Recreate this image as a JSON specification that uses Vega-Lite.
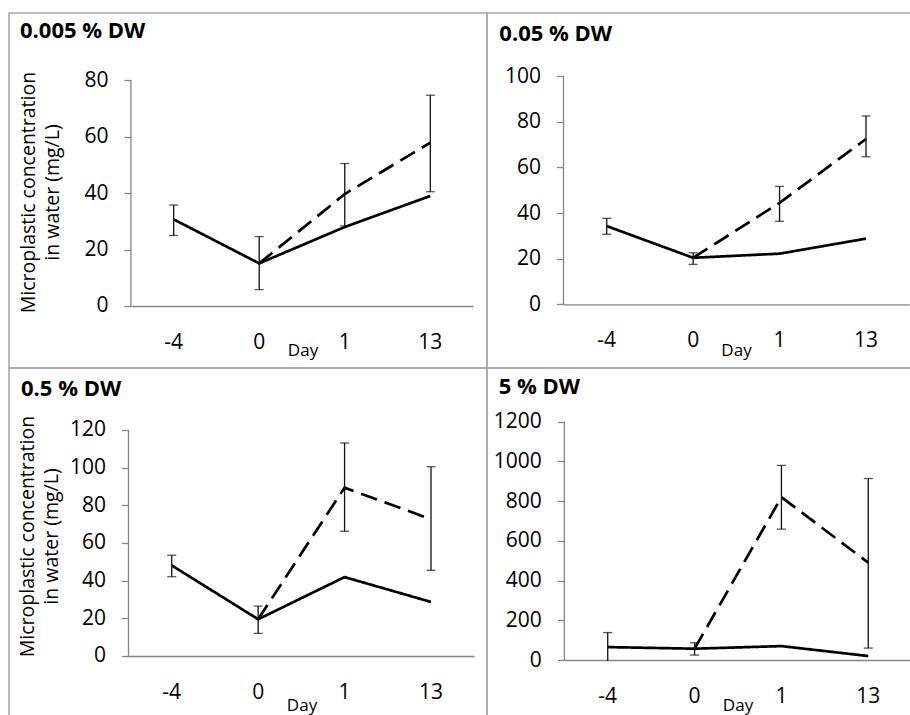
{
  "$schema": "https://vega.github.io/schema/vega-lite/v6.json",
  "padding": {"left": 8, "top": 12, "right": 0, "bottom": 0},
  "background": "white",
  "datasets": {
    "lines": [
      {"panel": "A", "day": "-4", "series": "solid", "value": 30.7},
      {"panel": "A", "day": "0", "series": "solid", "value": 15.1},
      {"panel": "A", "day": "1", "series": "solid", "value": 28.0},
      {"panel": "A", "day": "13", "series": "solid", "value": 39.0},
      {"panel": "A", "day": "0", "series": "dashed", "value": 15.1},
      {"panel": "A", "day": "1", "series": "dashed", "value": 39.7},
      {"panel": "A", "day": "13", "series": "dashed", "value": 57.9},
      {"panel": "B", "day": "-4", "series": "solid", "value": 34.3},
      {"panel": "B", "day": "0", "series": "solid", "value": 20.4},
      {"panel": "B", "day": "1", "series": "solid", "value": 22.2},
      {"panel": "B", "day": "13", "series": "solid", "value": 28.8},
      {"panel": "B", "day": "0", "series": "dashed", "value": 20.4},
      {"panel": "B", "day": "1", "series": "dashed", "value": 44.5},
      {"panel": "B", "day": "13", "series": "dashed", "value": 72.5},
      {"panel": "C", "day": "-4", "series": "solid", "value": 48.1},
      {"panel": "C", "day": "0", "series": "solid", "value": 19.5},
      {"panel": "C", "day": "1", "series": "solid", "value": 41.9},
      {"panel": "C", "day": "13", "series": "solid", "value": 28.7},
      {"panel": "C", "day": "0", "series": "dashed", "value": 19.5},
      {"panel": "C", "day": "1", "series": "dashed", "value": 89.4},
      {"panel": "C", "day": "13", "series": "dashed", "value": 72.6},
      {"panel": "D", "day": "-4", "series": "solid", "value": 65},
      {"panel": "D", "day": "0", "series": "solid", "value": 57},
      {"panel": "D", "day": "1", "series": "solid", "value": 70},
      {"panel": "D", "day": "13", "series": "solid", "value": 20},
      {"panel": "D", "day": "0", "series": "dashed", "value": 57},
      {"panel": "D", "day": "1", "series": "dashed", "value": 820},
      {"panel": "D", "day": "13", "series": "dashed", "value": 490}
    ],
    "errors": [
      {"panel": "A", "day": "-4", "lo": 25.0, "hi": 35.8},
      {"panel": "A", "day": "0", "lo": 5.8, "hi": 24.6},
      {"panel": "A", "day": "1", "lo": 28.4, "hi": 50.5},
      {"panel": "A", "day": "13", "lo": 40.5, "hi": 74.7},
      {"panel": "B", "day": "-4", "lo": 30.7, "hi": 37.7},
      {"panel": "B", "day": "0", "lo": 17.5, "hi": 22.6},
      {"panel": "B", "day": "1", "lo": 36.4, "hi": 51.7},
      {"panel": "B", "day": "13", "lo": 64.7, "hi": 82.6},
      {"panel": "C", "day": "-4", "lo": 42.1, "hi": 53.5},
      {"panel": "C", "day": "0", "lo": 12.0, "hi": 26.5},
      {"panel": "C", "day": "1", "lo": 66.2, "hi": 113.1},
      {"panel": "C", "day": "13", "lo": 45.5, "hi": 100.5},
      {"panel": "D", "day": "-4", "lo": -5, "hi": 138},
      {"panel": "D", "day": "0", "lo": 25, "hi": 87},
      {"panel": "D", "day": "1", "lo": 659, "hi": 980},
      {"panel": "D", "day": "13", "lo": 60, "hi": 914}
    ]
  },
  "columns": 2,
  "spacing": 0,
  "bounds": "flush",
  "concat": [
    {
      "width": 478, "height": 355,
      "title": {"text": "0.005 % DW", "anchor": "start", "frame": "group", "orient": "top", "offset": -47, "baseline": "alphabetic", "dx": 11},
      "layer": [
        {
          "data": {"name": "lines"},
          "transform": [{"filter": "datum.panel === 'A'"}],
          "mark": {"type": "line", "color": "#000000", "strokeWidth": 2.7},
          "encoding": {
            "x": {"field": "day", "type": "ordinal", "bandPosition": 0.5,
              "scale": {"type": "band", "domain": ["-4", "0", "1", "13"], "range": [121.9, 464.1], "paddingInner": 0, "paddingOuter": 0},
              "axis": {"orient": "bottom", "offset": -62, "title": "Day", "titleX": 293.5, "titleY": 49}},
            "y": {"field": "value", "type": "quantitative",
              "scale": {"domain": [-21.98, 103.85], "nice": false, "zero": false},
              "axis": {"orient": "left", "offset": -121.9, "values": [0, 20, 40, 60, 80], "title": ["Microplastic concentration", "in water (mg/L)"], "titleX": -102, "titleY": 179}},
            "strokeDash": {"field": "series", "type": "nominal", "scale": {"domain": ["solid", "dashed"], "range": [[1, 0], [17, 8]]}, "legend": null}
          }
        },
        {
          "data": {"name": "errors"},
          "transform": [{"filter": "datum.panel === 'A'"}],
          "mark": {"type": "rule", "color": "#111111", "strokeWidth": 1.3},
          "encoding": {
            "x": {"field": "day", "type": "ordinal", "bandPosition": 0.5},
            "y": {"field": "lo", "type": "quantitative"},
            "y2": {"field": "hi"}
          }
        },
        {
          "data": {"name": "errors"},
          "transform": [{"filter": "datum.panel === 'A'"}],
          "mark": {"type": "tick", "color": "#111111", "thickness": 1.3, "size": 9, "orient": "horizontal"},
          "encoding": {
            "x": {"field": "day", "type": "ordinal", "bandPosition": 0.5},
            "y": {"field": "hi", "type": "quantitative"}
          }
        },
        {
          "data": {"name": "errors"},
          "transform": [{"filter": "datum.panel === 'A' && datum.lo >= 0"}],
          "mark": {"type": "tick", "color": "#111111", "thickness": 1.3, "size": 9, "orient": "horizontal"},
          "encoding": {
            "x": {"field": "day", "type": "ordinal", "bandPosition": 0.5},
            "y": {"field": "lo", "type": "quantitative"}
          }
        },
        {
          "data": {"values": [{}]},
          "mark": {"type": "rule", "color": "#868686", "strokeWidth": 1.3},
          "encoding": {
            "x": {"datum": "-4", "bandPosition": 0},
            "y": {"datum": 0},
            "y2": {"datum": 80}
          }
        }
      ]
    },
    {
      "width": 430, "height": 355,
      "title": {"text": "0.05 % DW", "anchor": "start", "frame": "group", "orient": "top", "offset": -50, "baseline": "alphabetic", "dx": 12.3},
      "layer": [
        {
          "data": {"name": "lines"},
          "transform": [{"filter": "datum.panel === 'B'"}],
          "mark": {"type": "line", "color": "#000000", "strokeWidth": 2.7},
          "encoding": {
            "x": {"field": "day", "type": "ordinal", "bandPosition": 0.5,
              "scale": {"type": "band", "domain": ["-4", "0", "1", "13"], "range": [76.5, 422.2], "paddingInner": 0, "paddingOuter": 0},
              "axis": {"orient": "bottom", "offset": -63.7, "title": "Day", "titleX": 249, "titleY": 51}},
            "y": {"field": "value", "type": "quantitative",
              "scale": {"domain": [-27.94, 127.76], "nice": false, "zero": false},
              "axis": {"orient": "left", "offset": -76.5, "values": [0, 20, 40, 60, 80, 100], "title": null}},
            "strokeDash": {"field": "series", "type": "nominal", "scale": {"domain": ["solid", "dashed"], "range": [[1, 0], [17, 8]]}, "legend": null}
          }
        },
        {
          "data": {"name": "errors"},
          "transform": [{"filter": "datum.panel === 'B'"}],
          "mark": {"type": "rule", "color": "#111111", "strokeWidth": 1.3},
          "encoding": {
            "x": {"field": "day", "type": "ordinal", "bandPosition": 0.5},
            "y": {"field": "lo", "type": "quantitative"},
            "y2": {"field": "hi"}
          }
        },
        {
          "data": {"name": "errors"},
          "transform": [{"filter": "datum.panel === 'B'"}],
          "mark": {"type": "tick", "color": "#111111", "thickness": 1.3, "size": 9, "orient": "horizontal"},
          "encoding": {
            "x": {"field": "day", "type": "ordinal", "bandPosition": 0.5},
            "y": {"field": "hi", "type": "quantitative"}
          }
        },
        {
          "data": {"name": "errors"},
          "transform": [{"filter": "datum.panel === 'B' && datum.lo >= 0"}],
          "mark": {"type": "tick", "color": "#111111", "thickness": 1.3, "size": 9, "orient": "horizontal"},
          "encoding": {
            "x": {"field": "day", "type": "ordinal", "bandPosition": 0.5},
            "y": {"field": "lo", "type": "quantitative"}
          }
        },
        {
          "data": {"values": [{}]},
          "mark": {"type": "rule", "color": "#868686", "strokeWidth": 1.3},
          "encoding": {
            "x": {"datum": "-4", "bandPosition": 0},
            "y": {"datum": 0},
            "y2": {"datum": 100}
          }
        }
      ]
    },
    {
      "width": 478, "height": 356,
      "title": {"text": "0.5 % DW", "anchor": "start", "frame": "group", "orient": "top", "offset": -50, "baseline": "alphabetic", "dx": 12},
      "layer": [
        {
          "data": {"name": "lines"},
          "transform": [{"filter": "datum.panel === 'C'"}],
          "mark": {"type": "line", "color": "#000000", "strokeWidth": 2.7},
          "encoding": {
            "x": {"field": "day", "type": "ordinal", "bandPosition": 0.5,
              "scale": {"type": "band", "domain": ["-4", "0", "1", "13"], "range": [119.5, 465.2], "paddingInner": 0, "paddingOuter": 0},
              "axis": {"orient": "bottom", "offset": -68, "title": "Day", "titleX": 292.5, "titleY": 54}},
            "y": {"field": "value", "type": "quantitative",
              "scale": {"domain": [-36.11, 152.92], "nice": false, "zero": false},
              "axis": {"orient": "left", "offset": -119.5, "values": [0, 20, 40, 60, 80, 100, 120], "title": ["Microplastic concentration", "in water (mg/L)"], "titleX": -101.5, "titleY": 168}},
            "strokeDash": {"field": "series", "type": "nominal", "scale": {"domain": ["solid", "dashed"], "range": [[1, 0], [17, 8]]}, "legend": null}
          }
        },
        {
          "data": {"name": "errors"},
          "transform": [{"filter": "datum.panel === 'C'"}],
          "mark": {"type": "rule", "color": "#111111", "strokeWidth": 1.3},
          "encoding": {
            "x": {"field": "day", "type": "ordinal", "bandPosition": 0.5},
            "y": {"field": "lo", "type": "quantitative"},
            "y2": {"field": "hi"}
          }
        },
        {
          "data": {"name": "errors"},
          "transform": [{"filter": "datum.panel === 'C'"}],
          "mark": {"type": "tick", "color": "#111111", "thickness": 1.3, "size": 9, "orient": "horizontal"},
          "encoding": {
            "x": {"field": "day", "type": "ordinal", "bandPosition": 0.5},
            "y": {"field": "hi", "type": "quantitative"}
          }
        },
        {
          "data": {"name": "errors"},
          "transform": [{"filter": "datum.panel === 'C' && datum.lo >= 0"}],
          "mark": {"type": "tick", "color": "#111111", "thickness": 1.3, "size": 9, "orient": "horizontal"},
          "encoding": {
            "x": {"field": "day", "type": "ordinal", "bandPosition": 0.5},
            "y": {"field": "lo", "type": "quantitative"}
          }
        },
        {
          "data": {"values": [{}]},
          "mark": {"type": "rule", "color": "#868686", "strokeWidth": 1.3},
          "encoding": {
            "x": {"datum": "-4", "bandPosition": 0},
            "y": {"datum": 0},
            "y2": {"datum": 120}
          }
        }
      ]
    },
    {
      "width": 430, "height": 356,
      "title": {"text": "5 % DW", "anchor": "start", "frame": "group", "orient": "top", "offset": -48, "baseline": "alphabetic", "dx": 11.7},
      "layer": [
        {
          "data": {"name": "lines"},
          "transform": [{"filter": "datum.panel === 'D'"}],
          "mark": {"type": "line", "color": "#000000", "strokeWidth": 2.7},
          "encoding": {
            "x": {"field": "day", "type": "ordinal", "bandPosition": 0.5,
              "scale": {"type": "band", "domain": ["-4", "0", "1", "13"], "range": [77.3, 424.7], "paddingInner": 0, "paddingOuter": 0},
              "axis": {"orient": "bottom", "offset": -64, "title": "Day", "titleX": 250.5, "titleY": 50}},
            "y": {"field": "value", "type": "quantitative",
              "scale": {"domain": [-322.2, 1470.4], "nice": false, "zero": false},
              "axis": {"orient": "left", "offset": -77.3, "values": [0, 200, 400, 600, 800, 1000, 1200], "title": null}},
            "strokeDash": {"field": "series", "type": "nominal", "scale": {"domain": ["solid", "dashed"], "range": [[1, 0], [17, 8]]}, "legend": null}
          }
        },
        {
          "data": {"name": "errors"},
          "transform": [{"filter": "datum.panel === 'D'"}],
          "mark": {"type": "rule", "color": "#111111", "strokeWidth": 1.3},
          "encoding": {
            "x": {"field": "day", "type": "ordinal", "bandPosition": 0.5},
            "y": {"field": "lo", "type": "quantitative"},
            "y2": {"field": "hi"}
          }
        },
        {
          "data": {"name": "errors"},
          "transform": [{"filter": "datum.panel === 'D'"}],
          "mark": {"type": "tick", "color": "#111111", "thickness": 1.3, "size": 9, "orient": "horizontal"},
          "encoding": {
            "x": {"field": "day", "type": "ordinal", "bandPosition": 0.5},
            "y": {"field": "hi", "type": "quantitative"}
          }
        },
        {
          "data": {"name": "errors"},
          "transform": [{"filter": "datum.panel === 'D' && datum.lo >= 0"}],
          "mark": {"type": "tick", "color": "#111111", "thickness": 1.3, "size": 9, "orient": "horizontal"},
          "encoding": {
            "x": {"field": "day", "type": "ordinal", "bandPosition": 0.5},
            "y": {"field": "lo", "type": "quantitative"}
          }
        },
        {
          "data": {"values": [{}]},
          "mark": {"type": "rule", "color": "#868686", "strokeWidth": 1.3},
          "encoding": {
            "x": {"datum": "-4", "bandPosition": 0},
            "y": {"datum": 0},
            "y2": {"datum": 1200}
          }
        }
      ]
    }
  ],
  "config": {
    "font": "Open Sans",
    "view": {"stroke": "#a6a6a6", "strokeWidth": 1.5},
    "title": {"font": "Open Sans", "fontSize": 22, "fontWeight": "bold", "color": "#000000"},
    "axis": {
      "grid": false,
      "labelFont": "Open Sans", "labelFontSize": 21, "labelColor": "#000000",
      "titleFont": "Open Sans", "titleColor": "#000000", "titleFontWeight": "normal",
      "domainColor": "#868686", "domainWidth": 1.3,
      "tickColor": "#868686", "tickWidth": 1.3
    },
    "axisX": {
      "ticks": false, "tickSize": 0, "labelPadding": 42, "labelBaseline": "alphabetic", "labelAngle": 0,
      "titleFontSize": 17, "titleAlign": "center", "titleBaseline": "alphabetic", "domain": true
    },
    "axisY": {
      "domain": false, "tickSize": 7, "labelPadding": 16, "labelBaseline": "middle", "format": "d",
      "titleFontSize": 19.5, "titleAngle": -90, "titleAlign": "center", "titleBaseline": "middle", "titleLineHeight": 24
    }
  }
}
